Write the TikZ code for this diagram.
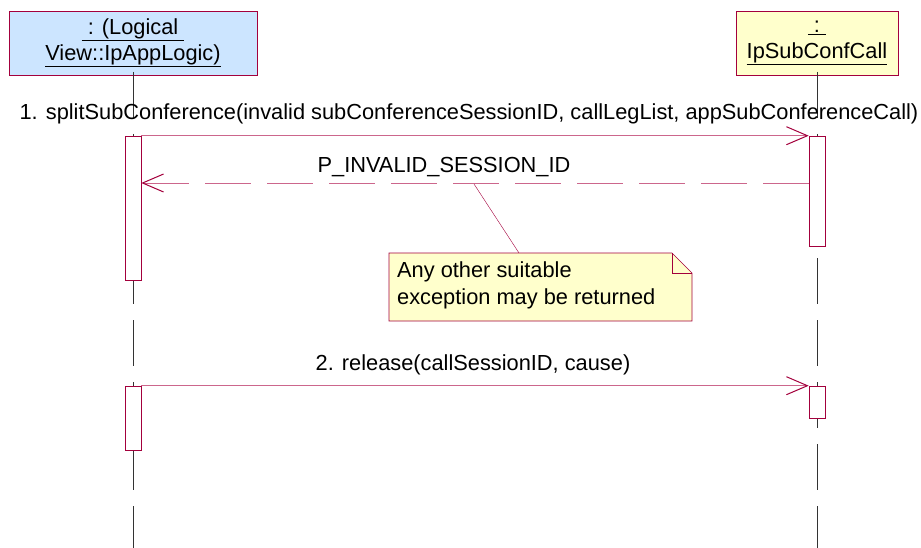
\documentclass[tikz,border=0pt]{standalone}
\usepackage{fontspec}
\setmainfont{Liberation Sans}
\usetikzlibrary{arrows.meta, positioning}
\definecolor{umlred}{RGB}{163,0,60}
\definecolor{umlpink}{RGB}{204,102,140}
\definecolor{objblue}{RGB}{204,229,255}
\definecolor{objyellow}{RGB}{255,255,204}
\tikzset{
  objbox/.style={draw=umlred, semithick, minimum height=64pt, inner sep=2pt,
                 align=center, font=\fontsize{21.8}{26}\selectfont},
  lifeline/.style={black!80, thin, dash pattern=on 46pt off 16pt},
  actbox/.style={draw=umlred, fill=white, semithick, minimum width=16pt, inner sep=0pt},
  msg/.style={umlpink, thick, -{Straight Barb[length=21pt, width=18pt, line width=1pt, umlred]}},
  retmsg/.style={msg, dash pattern=on 46pt off 16pt},
  msglabel/.style={font=\fontsize{21.8}{27}\selectfont, anchor=base},
  notebox/.style={draw=umlred, fill=objyellow, semithick}
}
\begin{document}
\begin{tikzpicture}[x=1pt, y=-1pt]
  \useasboundingbox (0,0) rectangle (921,548);
  % objects
  \node[objbox, fill=objblue, minimum width=248pt] (logic) at (133,43)
      {\underline{\ : (Logical\ }\\\underline{View::IpAppLogic)}};
  \node[objbox, fill=objyellow, minimum width=162pt] (subconf) at (817,43)
      {\underline{\ :\ }\\\underline{IpSubConfCall}};
  % lifelines
  \draw[lifeline] (133,72) -- (133,548);
  \draw[lifeline] (817,72) -- (817,548);
  % activations
  \node[actbox, minimum height=144pt] (logicA) at (133,208) {};
  \node[actbox, minimum height=110pt] (subconfA) at (817,191) {};
  \node[actbox, minimum height=64pt] (logicB) at (133,418) {};
  \node[actbox, minimum height=32pt] (subconfB) at (817,402) {};
  % 1. split sub conference
  \draw[msg] (logicA.north east) -- (subconfA.north west);
  \node[msglabel] (lblsplit) at (469,120)
      {1. splitSubConference(invalid subConferenceSessionID, callLegList, appSubConferenceCall)};
  % exception returned
  \coordinate (retfrom) at (subconfA.west |- 0,183);
  \coordinate (retto) at (logicA.east |- 0,183);
  \draw[retmsg] (retfrom) -- (retto);
  \node[msglabel] (lblinvalid) at (444,173) {P\_INVALID\_SESSION\_ID};
  % note
  \draw[notebox] (389,253) -- (672,253) -- (692,273) -- (692,321) -- (389,321) -- cycle;
  \draw[umlred, semithick] (672,253) -- (672,273) -- (692,273);
  \node[msglabel, anchor=north west, align=left, inner sep=0pt]
      (notetext) at (397,262) {Any other suitable\\exception may be returned};
  \coordinate (notetop) at (519,253);
  \coordinate (noteend) at (474,184);
  \draw[umlred, thin] (notetop) -- (noteend);
  % 2. release
  \draw[msg] (logicB.north east) -- (subconfB.north west);
  \node[msglabel] (lblrelease) at (473,370) {2. release(callSessionID, cause)};
\end{tikzpicture}
\end{document}
